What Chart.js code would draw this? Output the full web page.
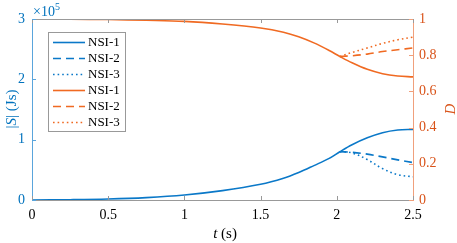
<!DOCTYPE html>
<html lang="en">
<head>
    <meta charset="UTF-8">
    <title>|S| and D vs t</title>
    <script src="https://cdn.jsdelivr.net/npm/chart.js"></script>
    <style>
        body {
            margin: 0;
            background: white;
        }

        .chart-box {
            width: 457px;
            height: 243px;
        }
    </style>
</head>
<body>
    <div class="chart-box">
        <canvas id="mainChart" width="457" height="243"></canvas>
    </div>

    <script>
        // time axis (s)
        const tMain = [0, 0.25, 0.5, 0.75, 1, 1.25, 1.5, 1.65, 1.75, 1.85, 1.95, 2.02, 2.1, 2.2, 2.3, 2.4, 2.5];
        const tBranch = [2.02, 2.1, 2.2, 2.3, 2.4, 2.5];

        // |S| in units of 1e5 Js
        const sSolid = [0, 0.005, 0.016, 0.04, 0.083, 0.155, 0.26, 0.36, 0.455, 0.57, 0.69, 0.8, 0.915, 1.03, 1.115, 1.16, 1.17];
        const sDashed = [0.8, 0.79, 0.76, 0.715, 0.665, 0.62];
        const sDotted = [0.8, 0.78, 0.67, 0.52, 0.42, 0.385];

        // D
        const dSolid = [1.0, 0.999, 0.997, 0.993, 0.987, 0.972, 0.95, 0.927, 0.902, 0.868, 0.826, 0.793, 0.758, 0.722, 0.698, 0.685, 0.68];
        const dDashed = [0.793, 0.797, 0.806, 0.82, 0.83, 0.84];
        const dDotted = [0.793, 0.815, 0.84, 0.865, 0.885, 0.9];

        const seriesNames = ['NSI-1', 'NSI-2', 'NSI-3', 'NSI-1', 'NSI-2', 'NSI-3'];
        const xTicks = [0, 0.5, 1, 1.5, 2, 2.5];
        const leftTicks = [0, 1, 2, 3];
        const rightTicks = [0, 0.2, 0.4, 0.6, 0.8, 1];

        const BLUE = '#0072BD';
        const ORANGE = '#D95319';
        const BLUE_LINE = '#0a78c8';
        const ORANGE_LINE = '#f06a22';
        const SERIF = '"Liberation Serif", "Times New Roman", serif';

        function pts(ts, vs) {
            return ts.map((t, i) => ({ x: t, y: vs[i] }));
        }

        function line(label, data, color, dash, axis) {
            return {
                label: label,
                data: data,
                borderColor: color,
                backgroundColor: color,
                borderWidth: 1.6,
                borderDash: dash,
                pointRadius: 0,
                tension: 0.35,
                yAxisID: axis
            };
        }

        const DASH = [8, 5];
        const DOT = [1.6, 3];

        // draws inward ticks, top border, legend and axis titles
        const decorations = {
            id: 'decorations',
            afterDraw(chart) {
                const ctx = chart.ctx;
                const a = chart.chartArea;
                const xs = chart.scales.x, yl = chart.scales.y, yr = chart.scales.y2;
                ctx.save();

                // top border
                ctx.strokeStyle = '#999';
                ctx.lineWidth = 1;
                ctx.beginPath();
                ctx.moveTo(a.left, a.top + 0.5);
                ctx.lineTo(a.right, a.top + 0.5);
                ctx.stroke();

                // x ticks top and bottom
                ctx.beginPath();
                xTicks.forEach(v => {
                    const px = Math.round(xs.getPixelForValue(v)) + 0.5;
                    ctx.moveTo(px, a.bottom);
                    ctx.lineTo(px, a.bottom - 4);
                    ctx.moveTo(px, a.top);
                    ctx.lineTo(px, a.top + 4);
                });
                ctx.stroke();

                ctx.strokeStyle = '#5aa5dc';
                ctx.beginPath();
                leftTicks.forEach(v => {
                    const py = Math.round(yl.getPixelForValue(v)) + 0.5;
                    ctx.moveTo(a.left, py);
                    ctx.lineTo(a.left + 4, py);
                });
                ctx.stroke();

                ctx.strokeStyle = '#f0a07c';
                ctx.beginPath();
                rightTicks.forEach(v => {
                    const py = Math.round(yr.getPixelForValue(v)) + 0.5;
                    ctx.moveTo(a.right, py);
                    ctx.lineTo(a.right - 4, py);
                });
                ctx.stroke();

                // legend
                const lx = 48, ly = 32, lw = 77, lh = 99;
                ctx.fillStyle = 'white';
                ctx.fillRect(lx, ly, lw, lh);
                ctx.strokeStyle = '#999';
                ctx.setLineDash([]);
                ctx.strokeRect(lx + 0.5, ly + 0.5, lw, lh);
                ctx.font = '13px ' + SERIF;
                ctx.textBaseline = 'middle';
                ctx.textAlign = 'left';
                chart.data.datasets.forEach((ds, i) => {
                    const yy = ly + 10.5 + i * 16;
                    ctx.strokeStyle = ds.borderColor;
                    ctx.lineWidth = ds.borderWidth;
                    ctx.setLineDash(ds.borderDash);
                    ctx.beginPath();
                    ctx.moveTo(lx + 5, yy);
                    ctx.lineTo(lx + 37, yy);
                    ctx.stroke();
                    ctx.fillStyle = 'black';
                    ctx.fillText(seriesNames[i], lx + 40, yy + 0.5);
                });
                ctx.setLineDash([]);

                // x10^5 above left axis
                ctx.fillStyle = BLUE;
                ctx.font = '14px ' + SERIF;
                ctx.textBaseline = 'alphabetic';
                ctx.fillText('\u00d710', 33, 16);
                ctx.font = '10px ' + SERIF;
                ctx.fillText('5', 55, 10);

                // x title
                ctx.fillStyle = 'black';
                ctx.font = 'italic 15px ' + SERIF;
                const tW = ctx.measureText('t').width;
                ctx.font = '15px ' + SERIF;
                const restW = ctx.measureText(' (s)').width;
                let sx = 225 - (tW + restW) / 2;
                ctx.font = 'italic 15px ' + SERIF;
                ctx.fillText('t', sx, 238);
                ctx.font = '15px ' + SERIF;
                ctx.fillText(' (s)', sx + tW, 238);

                // left title, rotated
                ctx.save();
                ctx.translate(16, 109);
                ctx.rotate(-Math.PI / 2);
                ctx.fillStyle = BLUE;
                const parts = [['|', ''], ['S', 'italic '], ['| (Js)', '']];
                let total = 0;
                parts.forEach(p => {
                    ctx.font = p[1] + '15px ' + SERIF;
                    total += ctx.measureText(p[0]).width;
                });
                let px = -total / 2;
                parts.forEach(p => {
                    ctx.font = p[1] + '15px ' + SERIF;
                    ctx.fillText(p[0], px, 0);
                    px += ctx.measureText(p[0]).width;
                });
                ctx.restore();

                // right title, rotated
                ctx.save();
                ctx.translate(455, 109);
                ctx.rotate(-Math.PI / 2);
                ctx.fillStyle = ORANGE;
                ctx.font = 'italic 15px ' + SERIF;
                ctx.textAlign = 'center';
                ctx.fillText('D', 0, 0);
                ctx.restore();

                ctx.restore();
            }
        };

        const ctx = document.getElementById('mainChart').getContext('2d');
        new Chart(ctx, {
            type: 'line',
            data: {
                datasets: [
                    line('NSI-1', pts(tMain, sSolid), BLUE_LINE, [], 'y'),
                    line('NSI-2', pts(tBranch, sDashed), BLUE_LINE, DASH, 'y'),
                    line('NSI-3', pts(tBranch, sDotted), BLUE_LINE, DOT, 'y'),
                    line('NSI-1', pts(tMain, dSolid), ORANGE_LINE, [], 'y2'),
                    line('NSI-2', pts(tBranch, dDashed), ORANGE_LINE, DASH, 'y2'),
                    line('NSI-3', pts(tBranch, dDotted), ORANGE_LINE, DOT, 'y2')
                ]
            },
            options: {
                responsive: false,
                animation: false,
                layout: { padding: { top: 19, left: 0, right: 0, bottom: 0 } },
                plugins: {
                    legend: { display: false },
                    tooltip: { enabled: false }
                },
                scales: {
                    x: {
                        type: 'linear',
                        min: 0,
                        max: 2.5,
                        afterFit: s => { s.height = 43; },
                        afterBuildTicks: s => { s.ticks = xTicks.map(v => ({ value: v })); },
                        grid: { display: false, drawTicks: false },
                        border: { color: '#999', width: 1 },
                        ticks: {
                            color: 'black',
                            padding: 7,
                            maxRotation: 0,
                            font: { family: SERIF, size: 14 },
                            callback: v => String(v)
                        }
                    },
                    y: {
                        position: 'left',
                        min: 0,
                        max: 3,
                        afterFit: s => { s.width = 32; },
                        afterBuildTicks: s => { s.ticks = leftTicks.map(v => ({ value: v })); },
                        grid: { display: false, drawTicks: false },
                        border: { color: '#5aa5dc', width: 1 },
                        ticks: {
                            color: BLUE,
                            padding: 7,
                            font: { family: SERIF, size: 14 },
                            callback: v => String(v)
                        }
                    },
                    y2: {
                        position: 'right',
                        min: 0,
                        max: 1,
                        afterFit: s => { s.width = 44; },
                        afterBuildTicks: s => { s.ticks = rightTicks.map(v => ({ value: v })); },
                        grid: { display: false, drawTicks: false },
                        border: { color: '#f0a07c', width: 1 },
                        ticks: {
                            color: ORANGE,
                            padding: 6,
                            font: { family: SERIF, size: 14 },
                            callback: v => String(v)
                        }
                    }
                }
            },
            plugins: [decorations]
        });
    </script>
</body>
</html>
